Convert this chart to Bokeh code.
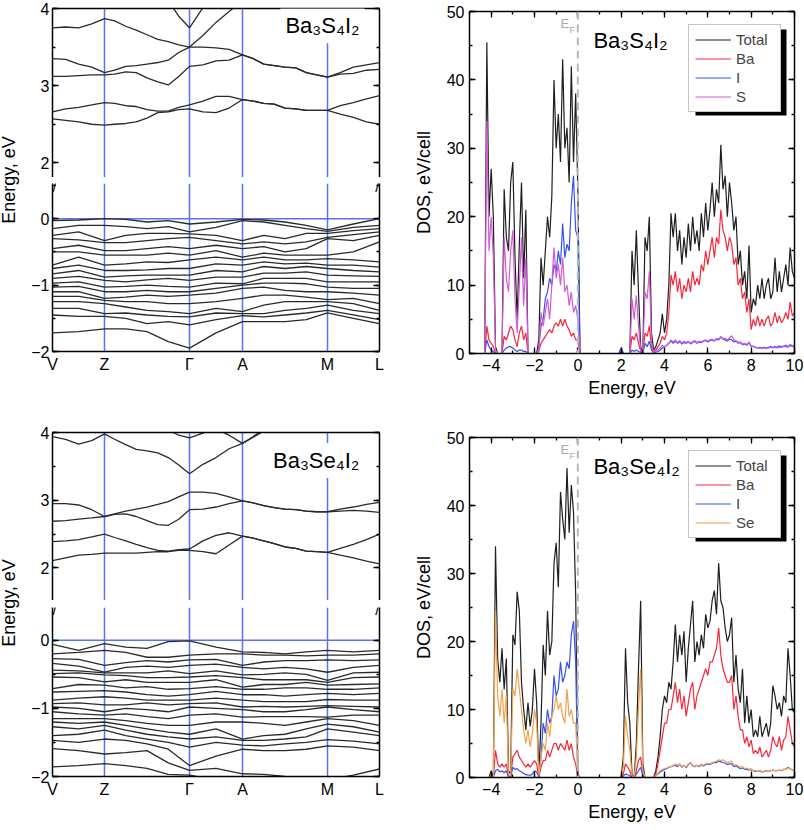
from bokeh.plotting import figure
from bokeh.layouts import row, column
from bokeh.models import (Span, Label, Legend, LegendItem, LinearAxis, FixedTicker,
                          SingleIntervalTicker, Range1d, Div, CustomJSTickFormatter)
from bokeh.embed import file_html
from bokeh.resources import INLINE

# ---------------------------------------------------------------- data
k_path = [0.0, 0.08, 0.159, 0.224, 0.289, 0.354, 0.419, 0.5, 0.581, 0.646, 0.711, 0.776, 0.841, 0.92, 1.0]
k_fine = [0.0, 0.04, 0.08, 0.12, 0.159, 0.19, 0.224, 0.256, 0.289, 0.322, 0.354, 0.386, 0.419, 0.46,
          0.5, 0.54, 0.581, 0.614, 0.646, 0.678, 0.711, 0.744, 0.776, 0.808, 0.841, 0.88, 0.92, 0.96, 1.0]
k_ticks = [0.0, 0.159, 0.419, 0.581, 0.841, 1.0]
k_labels = ["V", "Z", "Γ", "A", "M", "L"]

# Ba3S4I2 conduction bands (eV) on k_fine
s_cb1 = [2.57, 2.55, 2.53, 2.50, 2.49, 2.50, 2.51, 2.53, 2.58, 2.65, 2.66, 2.69, 2.70, 2.66, 2.65,
         2.71, 2.82, 2.80, 2.77, 2.76, 2.71, 2.70, 2.68, 2.68, 2.68, 2.63, 2.59, 2.53, 2.50]
s_cb2 = [2.66, 2.70, 2.72, 2.75, 2.78, 2.77, 2.74, 2.73, 2.69, 2.67, 2.67, 2.72, 2.75, 2.80, 2.86,
         2.86, 2.82, 2.80, 2.77, 2.76, 2.71, 2.70, 2.68, 2.68, 2.68, 2.74, 2.78, 2.83, 2.87]
s_cb3 = [3.12, 3.12, 3.13, 3.14, 3.14, 3.15, 3.18, 3.17, 3.10, 3.05, 3.01, 3.12, 3.25, 3.27, 3.32,
         3.33, 3.40, 3.35, 3.28, 3.26, 3.24, 3.23, 3.17, 3.14, 3.11, 3.15, 3.16, 3.20, 3.21]
s_cb4 = [3.35, 3.34, 3.28, 3.24, 3.17, 3.20, 3.25, 3.26, 3.28, 3.30, 3.33, 3.43, 3.50, 3.50, 3.49,
         3.47, 3.40, 3.35, 3.28, 3.26, 3.24, 3.23, 3.17, 3.14, 3.11, 3.17, 3.24, 3.27, 3.30]
s_cb5 = [3.75, 3.76, 3.75, 3.80, 3.87, 3.84, 3.77, 3.72, 3.66, 3.60, 3.57, 3.53, 3.50, 3.65, 3.82,
         3.96, 4.10, 4.20, 4.25, 4.30, 4.30, 4.30, 4.30, 4.30, 4.30, 4.30, 4.30, 4.30, 4.30]
s_cb6 = [4.40, 4.40, 4.40, 4.40, 4.40, 4.40, 4.40, 4.40, 4.40, 4.40, 4.10, 3.90, 3.75, 4.01, 4.20,
         4.40, 4.40, 4.40, 4.40, 4.40, 4.40, 4.40, 4.40, 4.40, 4.40, 4.40, 4.40, 4.40, 4.40]

# Ba3S4I2 valence band energies at each k_path point (eV, top to bottom)
s_vb_V   = [-0.03, -0.15, -0.25, -0.30, -0.45, -0.50, -0.70, -0.75, -0.83, -0.90, -0.97, -1.03, -1.10, -1.17, -1.25, -1.35, -1.45, -1.72]
s_vb_08  = [-0.02, -0.10, -0.20, -0.32, -0.40, -0.50, -0.58, -0.70, -0.78, -0.87, -0.95, -1.02, -1.10, -1.17, -1.25, -1.35, -1.47, -1.70]
s_vb_Z   = [0.00, -0.10, -0.33, -0.36, -0.48, -0.55, -0.70, -0.78, -0.88, -0.93, -1.03, -1.10, -1.20, -1.23, -1.28, -1.43, -1.47, -1.66]
s_vb_224 = [-0.01, -0.12, -0.25, -0.36, -0.48, -0.55, -0.68, -0.78, -0.86, -0.95, -1.02, -1.10, -1.18, -1.25, -1.33, -1.42, -1.50, -1.66]
s_vb_289 = [-0.05, -0.15, -0.22, -0.33, -0.45, -0.55, -0.65, -0.77, -0.85, -0.92, -1.00, -1.08, -1.15, -1.25, -1.38, -1.45, -1.58, -1.70]
s_vb_354 = [-0.03, -0.12, -0.22, -0.30, -0.42, -0.52, -0.66, -0.75, -0.85, -0.90, -1.02, -1.10, -1.17, -1.28, -1.40, -1.47, -1.55, -1.85]
s_vb_G   = [-0.08, -0.20, -0.23, -0.28, -0.45, -0.55, -0.62, -0.75, -0.85, -0.93, -1.03, -1.10, -1.15, -1.28, -1.43, -1.48, -1.60, -1.95]
s_vb_50  = [-0.05, -0.13, -0.25, -0.33, -0.40, -0.48, -0.58, -0.68, -0.78, -0.88, -0.97, -1.05, -1.12, -1.25, -1.35, -1.42, -1.52, -1.72]
s_vb_A   = [-0.01, -0.03, -0.33, -0.38, -0.45, -0.58, -0.62, -0.70, -0.80, -0.88, -0.98, -1.00, -1.05, -1.20, -1.40, -1.43, -1.46, -1.55]
s_vb_646 = [-0.02, -0.05, -0.25, -0.35, -0.42, -0.52, -0.58, -0.65, -0.72, -0.82, -0.90, -0.97, -1.03, -1.15, -1.30, -1.43, -1.48, -1.55]
s_vb_711 = [-0.05, -0.10, -0.30, -0.38, -0.50, -0.55, -0.62, -0.68, -0.75, -0.82, -0.90, -0.97, -1.08, -1.15, -1.25, -1.38, -1.45, -1.55]
s_vb_776 = [-0.10, -0.15, -0.22, -0.35, -0.45, -0.55, -0.62, -0.67, -0.72, -0.80, -0.90, -0.98, -1.10, -1.18, -1.25, -1.35, -1.42, -1.52]
s_vb_M   = [-0.17, -0.19, -0.22, -0.28, -0.30, -0.55, -0.60, -0.70, -0.75, -0.85, -0.95, -1.03, -1.10, -1.22, -1.25, -1.30, -1.38, -1.42]
s_vb_92  = [-0.08, -0.13, -0.18, -0.24, -0.33, -0.50, -0.62, -0.70, -0.78, -0.86, -0.95, -1.05, -1.12, -1.20, -1.28, -1.38, -1.45, -1.50]
s_vb_L   = [0.00, -0.10, -0.15, -0.20, -0.25, -0.35, -0.65, -0.73, -0.80, -0.87, -0.95, -1.05, -1.15, -1.28, -1.38, -1.43, -1.52, -1.58]

# Ba3Se4I2 conduction bands (eV) on k_fine
e_cb1 = [2.11, 2.15, 2.19, 2.20, 2.22, 2.22, 2.22, 2.22, 2.23, 2.24, 2.24, 2.26, 2.26, 2.24, 2.21,
         2.34, 2.47, 2.44, 2.40, 2.36, 2.31, 2.29, 2.25, 2.24, 2.23, 2.19, 2.15, 2.10, 2.06]
e_cb2 = [2.39, 2.40, 2.42, 2.46, 2.50, 2.45, 2.40, 2.35, 2.30, 2.26, 2.25, 2.27, 2.28, 2.40, 2.48,
         2.52, 2.47, 2.44, 2.40, 2.36, 2.31, 2.29, 2.25, 2.24, 2.23, 2.29, 2.35, 2.42, 2.50]
e_cb3 = [2.69, 2.70, 2.72, 2.74, 2.76, 2.79, 2.80, 2.76, 2.70, 2.64, 2.63, 2.72, 2.86, 2.87, 2.90,
         2.95, 2.99, 2.96, 2.92, 2.89, 2.87, 2.86, 2.84, 2.83, 2.83, 2.84, 2.85, 2.84, 2.82]
e_cb4 = [2.95, 2.95, 2.93, 2.86, 2.76, 2.80, 2.84, 2.87, 2.90, 2.94, 2.98, 3.05, 3.12, 3.12, 3.10,
         3.05, 2.99, 2.96, 2.92, 2.89, 2.87, 2.86, 2.84, 2.83, 2.83, 2.87, 2.90, 2.94, 2.97]
e_cb5 = [3.94, 3.90, 3.83, 3.88, 3.98, 3.90, 3.82, 3.75, 3.73, 3.70, 3.63, 3.52, 3.39, 3.53, 3.63,
         3.76, 3.84, 3.93, 4.02, 4.10, 4.30, 4.30, 4.30, 4.30, 4.30, 4.30, 4.30, 4.30, 4.30]
e_cb6 = [4.30, 4.30, 4.30, 4.30, 4.30, 4.30, 4.30, 4.30, 4.30, 4.20, 4.04, 3.96, 3.92, 3.99, 4.05,
         3.96, 3.84, 3.94, 4.05, 4.15, 4.30, 4.30, 4.30, 4.30, 4.30, 4.30, 4.30, 4.30, 4.30]

# Ba3Se4I2 valence band energies at each k_path point (eV, top to bottom)
e_vb_V   = [-0.06, -0.20, -0.27, -0.34, -0.44, -0.49, -0.54, -0.71, -0.76, -0.88, -0.93, -0.98, -1.05, -1.15, -1.20, -1.27, -1.40, -1.47, -1.59, -1.86]
e_vb_08  = [-0.15, -0.18, -0.28, -0.38, -0.45, -0.48, -0.55, -0.65, -0.75, -0.85, -0.92, -1.00, -1.08, -1.15, -1.22, -1.30, -1.38, -1.50, -1.62, -1.84]
e_vb_Z   = [-0.05, -0.15, -0.37, -0.47, -0.48, -0.51, -0.61, -0.66, -0.74, -0.83, -0.95, -1.05, -1.10, -1.15, -1.20, -1.25, -1.32, -1.45, -1.67, -1.81]
e_vb_224 = [-0.10, -0.18, -0.33, -0.40, -0.48, -0.52, -0.58, -0.70, -0.76, -0.85, -0.95, -1.00, -1.08, -1.18, -1.25, -1.32, -1.40, -1.47, -1.65, -1.84]
e_vb_289 = [-0.12, -0.25, -0.30, -0.38, -0.48, -0.55, -0.62, -0.68, -0.80, -0.88, -0.92, -1.02, -1.12, -1.22, -1.30, -1.38, -1.45, -1.52, -1.62, -1.88]
e_vb_354 = [-0.02, -0.25, -0.32, -0.40, -0.45, -0.55, -0.62, -0.72, -0.82, -0.88, -0.95, -1.05, -1.15, -1.25, -1.35, -1.42, -1.50, -1.60, -1.80, -1.97]
e_vb_G   = [-0.01, -0.22, -0.29, -0.37, -0.49, -0.54, -0.62, -0.71, -0.80, -0.88, -0.93, -0.98, -1.10, -1.25, -1.38, -1.45, -1.57, -1.84, -1.91, -1.98]
e_vb_50  = [-0.10, -0.20, -0.28, -0.35, -0.45, -0.52, -0.58, -0.68, -0.75, -0.85, -0.92, -1.00, -1.08, -1.20, -1.30, -1.42, -1.50, -1.70, -1.88, -2.05]
e_vb_A   = [-0.17, -0.20, -0.37, -0.40, -0.51, -0.55, -0.69, -0.72, -0.80, -0.88, -0.98, -1.02, -1.13, -1.20, -1.45, -1.47, -1.54, -1.60, -1.96, -2.10]
e_vb_646 = [-0.18, -0.22, -0.32, -0.42, -0.50, -0.58, -0.65, -0.72, -0.80, -0.90, -0.97, -1.05, -1.12, -1.22, -1.40, -1.47, -1.55, -1.62, -1.97, -2.10]
e_vb_711 = [-0.20, -0.22, -0.30, -0.40, -0.48, -0.58, -0.65, -0.70, -0.82, -0.90, -0.98, -1.05, -1.12, -1.25, -1.38, -1.45, -1.52, -1.62, -2.00, -2.10]
e_vb_776 = [-0.17, -0.23, -0.30, -0.42, -0.50, -0.58, -0.62, -0.70, -0.80, -0.90, -0.97, -1.02, -1.12, -1.20, -1.30, -1.42, -1.50, -1.60, -2.02, -2.10]
e_vb_M   = [-0.15, -0.22, -0.29, -0.47, -0.59, -0.62, -0.66, -0.72, -0.78, -0.87, -0.96, -0.98, -1.13, -1.15, -1.23, -1.30, -1.46, -1.55, -2.05, -2.10]
e_vb_92  = [-0.17, -0.22, -0.30, -0.40, -0.48, -0.55, -0.65, -0.72, -0.80, -0.88, -0.97, -1.02, -1.10, -1.18, -1.27, -1.35, -1.48, -1.57, -1.98, -2.10]
e_vb_L   = [-0.15, -0.20, -0.29, -0.37, -0.47, -0.54, -0.64, -0.70, -0.78, -0.88, -0.98, -1.05, -1.10, -1.25, -1.35, -1.40, -1.52, -1.62, -1.89, -2.10]

# DOS energy grid: -5.0 ... 10.0 eV, 0.1 eV step (151 points)
dos_energy = [round(-5.0 + 0.1 * i, 1) for i in range(151)]

# Ba3S4I2 DOS (eV/cell); rows of 10 points: -5.0.., -4.0.., -3.0.., ... 9.0.., 10.0
s_total = [0, 0, 0, 0, 0, 0, 0, 0, 45.5, 20,
           27, 20, 1, 0, 0, 0, 24, 17, 15, 25,
           28, 14, 5, 16, 25, 11, 21, 0, 0, 0,
           0, 0, 2, 14, 10, 15, 20, 17, 23, 40,
           30, 35, 28, 43, 30, 33, 25, 42, 28, 38,
           24, 0, 0, 0, 0, 0, 0, 0, 0, 0,
           0, 0, 0, 0, 0, 0, 0, 0, 0, 0,
           0.8, 0, 0, 0, 0, 15, 10, 18, 9, 1,
           0, 17, 15, 20, 3, 0.5, 1, 2, 3, 5.8,
           3, 5, 10, 20.5, 17, 20.5, 15, 18, 13, 17,
           14, 19, 15, 20, 16, 18, 15, 20.5, 17, 22,
           18, 21, 25, 20, 24, 22, 30.5, 24, 26, 20,
           25, 22, 18, 20, 13, 15, 10, 12, 8, 15.8,
           6, 8, 7, 10, 8, 11, 8, 10, 11, 8,
           9, 14, 9, 12, 9, 11, 13, 10, 15.5, 12,
           11]
s_ba = [0, 0, 0, 0, 0, 0, 0, 0, 4, 2,
        1.5, 1, 0, 0, 0, 0, 2.5, 2, 3, 4,
        3.5, 2, 1, 3, 4, 2, 3, 0, 0, 0,
        0, 0, 0.3, 1.5, 2, 2.5, 3, 3.5, 3, 4,
        4.5, 4, 5, 4, 5, 4, 3.5, 2.5, 3, 2,
        2, 0, 0, 0, 0, 0, 0, 0, 0, 0,
        0, 0, 0, 0, 0, 0, 0, 0, 0, 0,
        0.2, 0, 0, 0, 0, 2.5, 2, 3, 1.5, 0.3,
        0, 3, 2.5, 4, 1, 0.3, 0.5, 1, 1.5, 2.5,
        2, 3, 6, 11.5, 10, 12, 9, 11, 8, 10,
        9, 11, 9, 12, 10, 11, 10, 13, 12, 15,
        13, 15, 17, 14, 17, 16, 21, 18, 17, 15,
        17, 16, 13, 14, 10, 11, 8, 9, 6, 8,
        3.5, 5, 4, 5.5, 4, 5, 4, 5, 5.5, 4,
        4.5, 6, 4.5, 5.5, 4.5, 5, 6, 5, 7.5, 5.5,
        6]
s_i = [0, 0, 0, 0, 0, 0, 0, 0, 2, 1,
       0.5, 0.3, 0, 0, 0, 0, 0.5, 0.8, 1, 1,
       0.8, 0.5, 0.3, 0.5, 0.5, 0.3, 0.3, 0, 0, 0,
       0, 0, 1, 4, 5, 8, 9, 11, 10, 13,
       12, 15, 13, 19, 14, 16, 15, 22, 26, 18,
       17, 0, 0, 0, 0, 0, 0, 0, 0, 0,
       0, 0, 0, 0, 0, 0, 0, 0, 0, 0,
       0.8, 0, 0, 0, 0, 0.5, 0.3, 0.5, 0.3, 0.1,
       0, 1.5, 1, 1.8, 0.5, 0.1, 0.2, 0.3, 0.5, 0.8,
       1, 1.2, 1.5, 1.8, 1.5, 1.8, 1.5, 1.7, 1.4, 1.6,
       1.5, 1.7, 1.4, 1.6, 1.8, 1.5, 1.7, 1.6, 1.8, 1.9,
       1.7, 1.9, 2.0, 1.8, 2.1, 2.0, 2.4, 2.1, 2.0, 1.8,
       2.1, 2.0, 1.7, 1.8, 1.5, 1.6, 1.3, 1.4, 1.2, 1.6,
       1.0, 1.1, 0.9, 0.8, 0.9, 0.8, 0.9, 0.8, 0.9, 1.0,
       0.9, 1.0, 0.9, 1.1, 1.0, 1.1, 1.2, 1.0, 1.3, 1.1,
       1.2]
s_s = [0, 0, 0, 0, 0, 0, 0, 0, 34, 15,
       20, 14, 0.5, 0, 0, 0, 17, 11, 9, 15,
       18, 8, 3, 10, 17, 7, 14, 0, 0, 0,
       0, 0, 0.5, 6, 4, 6, 8, 5, 10, 15.5,
       11, 13, 10, 14, 9, 10, 7, 9, 6, 7,
       5, 0, 0, 0, 0, 0, 0, 0, 0, 0,
       0, 0, 0, 0, 0, 0, 0, 0, 0, 0,
       0, 0, 0, 0, 0, 8, 5, 8.5, 4, 0.5,
       0, 9, 8, 12, 1.5, 0.2, 0.3, 0.5, 0.8, 1.2,
       1, 1.2, 1.5, 2, 1.7, 2, 1.6, 1.9, 1.5, 1.8,
       1.6, 1.8, 1.5, 1.7, 1.9, 1.6, 1.8, 1.7, 1.9, 2.0,
       1.8, 2.0, 2.1, 1.9, 2.2, 2.1, 2.5, 2.2, 2.2, 2.0,
       2.3, 2.6, 2.0, 1.9, 1.6, 1.7, 1.4, 1.5, 1.3, 1.7,
       1.1, 1.0, 0.9, 0.8, 0.8, 0.7, 0.8, 0.7, 0.8, 0.9,
       0.8, 0.9, 0.8, 0.9, 0.9, 1.0, 1.0, 0.9, 1.1, 1.0,
       1.0]

# Ba3Se4I2 DOS (eV/cell)
e_total = [0, 0, 0, 0, 0, 0, 0, 0, 0, 0,
           1, 0, 34, 17.5, 14, 19, 13, 17.5, 1, 0.5,
           21, 19.5, 27.3, 24.5, 14, 10, 7, 11, 7.5, 10,
           16, 11, 0.5, 8, 19.5, 15, 24.5, 18, 20, 31.5,
           34.5, 28, 42, 38, 35, 45.5, 36, 43, 39, 27,
           0.5, 0, 0, 0, 0, 0, 0, 0, 0, 0,
           0, 0, 0, 0, 0, 0, 0, 0, 0, 0,
           0, 3, 19, 11, 8, 0.5, 0, 5, 16, 26,
           2, 0, 0, 0, 0, 0, 1, 3, 6, 10,
           12, 11, 14, 13, 17, 22.5, 17, 21, 18, 21.5,
           14, 19, 22.5, 26, 17, 20, 18, 21, 19, 24,
           22, 23, 26, 27.5, 24, 31.5, 26, 25, 22, 20,
           21, 23.5, 14, 18, 13, 11, 16, 8, 12, 8,
           10, 6, 7, 6, 9, 6, 7, 8, 6, 8,
           13.5, 12, 10, 11, 9, 12, 11, 19, 15, 10,
           9.5]
e_ba = [0, 0, 0, 0, 0, 0, 0, 0, 0, 0,
        0.2, 0, 4, 2, 1.5, 2, 1.5, 2, 0.2, 0,
        3, 3.5, 4, 3, 2.5, 2, 1.5, 2, 1.5, 2,
        2.5, 2, 0.1, 1.5, 2.5, 2.5, 4, 3, 4, 5,
        5, 4, 5, 4.5, 4, 5.5, 4, 5, 3, 2,
        0, 0, 0, 0, 0, 0, 0, 0, 0, 0,
        0, 0, 0, 0, 0, 0, 0, 0, 0, 0,
        0, 0.5, 2, 1.5, 1, 0, 0, 1, 2.5, 3,
        0.5, 0, 0, 0, 0, 0, 0.5, 2, 4, 6,
        8, 8, 10, 10, 12, 14, 11, 13, 10, 12,
        9, 11, 13, 14, 10, 12, 13, 14, 15, 16,
        15, 17, 17, 18, 19, 22, 18, 16, 15, 14,
        14, 15, 10, 12, 9, 7, 7, 5, 6, 4.5,
        5.5, 3.5, 4, 3.5, 4.5, 3, 3.5, 4, 3, 4,
        6, 5, 4.5, 6, 4, 5.5, 6, 9, 7, 5,
        4.5]
e_i = [0, 0, 0, 0, 0, 0, 0, 0, 0, 0,
       0.2, 0, 1, 1.2, 0.8, 1, 0.7, 1, 0.1, 0,
       1.5, 1.2, 1.3, 1, 0.8, 0.6, 0.4, 0.4, 0.3, 0.5,
       1, 0.8, 0.1, 3, 8, 6.5, 10, 8, 9, 15,
       12, 13, 17, 14, 15, 17, 16, 21, 23, 17,
       0, 0, 0, 0, 0, 0, 0, 0, 0, 0,
       0, 0, 0, 0, 0, 0, 0, 0, 0, 0,
       0, 0.2, 0.5, 0.4, 0.3, 0, 0, 0.5, 1, 1.5,
       0.2, 0, 0, 0, 0, 0, 0.3, 0.5, 0.8, 1,
       1.2, 1.3, 1.5, 1.6, 1.7, 1.8, 1.6, 2, 1.5, 1.8,
       1.4, 1.9, 2.2, 1.7, 1.6, 1.8, 1.6, 1.9, 1.7, 1.9,
       2, 1.9, 2.1, 2.2, 2.2, 2.4, 2.3, 2.2, 2.1, 1.9,
       2, 2, 1.6, 1.7, 1.5, 1.3, 1.4, 1.2, 1.2, 1.1,
       1.1, 1, 0.9, 0.9, 1, 0.8, 0.9, 1, 0.9, 1,
       1.1, 1, 1, 1.1, 1, 1.2, 1.2, 1.5, 1.3, 1.1,
       1]
e_se = [0, 0, 0, 0, 0, 0, 0, 0, 0, 0,
        0.3, 0, 24.5, 12, 9, 13, 8, 12, 0.5, 0.2,
        13, 12, 16, 13, 10, 7, 5, 7, 4.5, 6.5,
        10, 8, 0.3, 3, 5, 4, 8, 6, 9, 10,
        12, 10, 11, 9, 8, 13, 9, 10, 8, 8,
        0.3, 0, 0, 0, 0, 0, 0, 0, 0, 0,
        0, 0, 0, 0, 0, 0, 0, 0, 0, 0,
        0, 1.5, 9, 6, 4, 0.3, 0, 3, 10, 16,
        1, 0, 0, 0, 0, 0, 0.3, 0.6, 1, 1.2,
        1.3, 1.4, 1.5, 1.6, 1.7, 2, 1.8, 2, 1.6, 1.8,
        1.5, 2, 2.2, 1.8, 1.6, 1.8, 1.7, 2, 1.8, 2,
        2.1, 2, 2.2, 2.3, 2.4, 2.6, 2.5, 2.6, 2.4, 2.2,
        2.3, 2.4, 1.8, 1.9, 1.7, 1.5, 1.6, 1.3, 1.4, 1.2,
        1.3, 1, 1, 0.9, 1, 0.9, 0.9, 1, 0.9, 1,
        1.1, 1, 1, 1.1, 1, 1.2, 1.2, 1.4, 1.3, 1.1,
        1]

# ---------------------------------------------------------------- style
FONT = "Liberation Sans"
BLUE_LINE = "#5d6ff2"
BAND_COLOR = "#2a2a2a"
C_TOTAL = "#1e1e1e"
C_BA = "#f5283c"
C_I = "#3552f0"
C_S = "#d45ad8"
C_SE = "#f4a24e"
EF_GREY = "#a9a9a9"

NO_LABELS = "return ''"


def style_axis(ax, show_labels=True, standoff=4):
    ax.axis_line_color = "black"
    ax.axis_line_width = 1.5
    ax.major_tick_line_color = "black"
    ax.major_tick_line_width = 1.3
    ax.minor_tick_line_color = "black"
    ax.minor_tick_line_width = 1.3
    ax.major_tick_in = 6
    ax.major_tick_out = 0
    ax.minor_tick_in = 3
    ax.minor_tick_out = 0
    ax.major_label_text_font = FONT
    ax.major_label_text_font_size = "16px"
    ax.major_label_text_color = "black"
    ax.major_label_standoff = standoff
    if not show_labels:
        ax.formatter = CustomJSTickFormatter(code=NO_LABELS)
        ax.major_label_text_color = None
        ax.major_label_standoff = 0
    ax.axis_label_text_font = FONT
    ax.axis_label_text_font_size = "18px"
    ax.axis_label_text_font_style = "normal"
    ax.axis_label_text_color = "black"


BAND_BL, BAND_FW, BAND_BR = 30, 327, 21
BAND_W = BAND_BL + BAND_FW + BAND_BR
DIV_W = 22


def ylabel_div(height, center_y):
    html = ('<div style="position:relative;width:%dpx;height:%dpx;">'
            '<div style="position:absolute;left:10px;top:%dpx;'
            'transform:translate(-50%%,-50%%) rotate(-90deg);white-space:nowrap;'
            'font-family:\'Liberation Sans\';font-size:18px;color:black;">Energy, eV</div></div>'
            % (DIV_W, height, center_y))
    return Div(text=html, width=DIV_W, height=height, margin=0)


def band_panel(cbands, vklists, up_range, low_range, title, title_xy,
               top_border, up_h, gap, low_h, bottom_border):
    common = dict(width=BAND_W, output_backend="svg", toolbar_location=None,
                  min_border_left=BAND_BL, min_border_right=BAND_BR,
                  x_axis_location=None, y_axis_location=None,
                  background_fill_color="white", border_fill_color="white")
    up = figure(height=top_border + up_h, x_range=Range1d(0, 1),
                y_range=Range1d(*up_range), min_border_top=top_border,
                min_border_bottom=0, **common)
    low = figure(height=gap + low_h + bottom_border, x_range=Range1d(0, 1),
                 y_range=Range1d(*low_range), min_border_top=gap,
                 min_border_bottom=bottom_border, **common)
    for p in (up, low):
        p.grid.visible = False
        p.outline_line_color = None
        for kt in k_ticks[1:-1]:
            p.add_layout(Span(location=kt, dimension="height", line_color=BLUE_LINE,
                              line_width=1.5, level="underlay"))
        for side, lab in (("left", True), ("right", False)):
            ax = LinearAxis(ticker=SingleIntervalTicker(interval=1, num_minor_ticks=2))
            style_axis(ax, lab, standoff=3)
            p.add_layout(ax, side)
    low.add_layout(Span(location=0, dimension="width", line_color=BLUE_LINE,
                        line_width=1.5, level="underlay"))
    top_ax = LinearAxis(ticker=FixedTicker(ticks=[]))
    style_axis(top_ax, False)
    up.add_layout(top_ax, "above")
    bot_ax = LinearAxis(ticker=FixedTicker(ticks=k_ticks),
                        major_label_overrides={t: l for t, l in zip(k_ticks, k_labels)})
    style_axis(bot_ax, True, standoff=4)
    bot_ax.major_tick_line_color = None
    bot_ax.minor_tick_line_color = None
    low.add_layout(bot_ax, "below")

    for b in cbands:
        up.line(k_fine, b, line_color=BAND_COLOR, line_width=1.3)
    for b in zip(*vklists):
        low.line(k_path, list(b), line_color=BAND_COLOR, line_width=1.3)

    up.add_layout(Label(x=title_xy[0], y=title_xy[1], text=title, text_font=FONT,
                        text_font_size="22px", text_color="black",
                        background_fill_color="white", padding=5))
    # axis-break marks, just below the gap start, inside the lower canvas
    for xpos in (0, BAND_FW):
        low.add_layout(Label(x=xpos, y=low_h + gap, x_units="screen", y_units="screen",
                             text="//", text_align="center", text_baseline="top",
                             text_font=FONT, text_font_size="15px", text_color="black"))
    return column(up, low, spacing=0)


DOS_BL, DOS_FW, DOS_BR = 69, 325, 10
DOS_W = DOS_BL + DOS_FW + DOS_BR
X0, X1, Y0, Y1 = -5.0, 10.0, 0.0, 50.0
LEG_W, LEG_H, SHADOW = 91, 86, 5


def dos_panel(total, ba, iod, chal, chal_name, chal_color, title,
              top_border, frame_h, bottom_border, legend_margin):
    p = figure(width=DOS_W, height=top_border + frame_h + bottom_border,
               x_range=Range1d(X0, X1), y_range=Range1d(Y0, Y1),
               min_border_left=DOS_BL, min_border_right=DOS_BR,
               min_border_top=top_border, min_border_bottom=bottom_border,
               x_axis_location=None, y_axis_location=None,
               output_backend="svg", toolbar_location=None)
    p.grid.visible = False
    p.outline_line_color = None
    bx = LinearAxis(ticker=SingleIntervalTicker(interval=2, num_minor_ticks=2),
                    axis_label="Energy, eV")
    style_axis(bx, True, standoff=5)
    bx.axis_label_standoff = 4
    p.add_layout(bx, "below")
    tx = LinearAxis(ticker=SingleIntervalTicker(interval=2, num_minor_ticks=2))
    style_axis(tx, False)
    p.add_layout(tx, "above")
    ly = LinearAxis(ticker=SingleIntervalTicker(interval=10, num_minor_ticks=2),
                    axis_label="DOS, eV/cell")
    style_axis(ly, True, standoff=5)
    ly.axis_label_standoff = 10
    p.add_layout(ly, "left")
    ry = LinearAxis(ticker=SingleIntervalTicker(interval=10, num_minor_ticks=2))
    style_axis(ry, False)
    p.add_layout(ry, "right")

    # legend drop shadow: a black box 5 px right/below the legend frame
    px_x = (X1 - X0) / DOS_FW
    px_y = (Y1 - Y0) / frame_h
    sh_right = DOS_FW - legend_margin + SHADOW
    sh_top = legend_margin + SHADOW
    p.quad(left=[X0 + (sh_right - LEG_W) * px_x], right=[X0 + sh_right * px_x],
           top=[Y1 - sh_top * px_y], bottom=[Y1 - (sh_top + LEG_H) * px_y],
           fill_color="black", line_color=None)

    r_t = p.line(dos_energy, total, line_color=C_TOTAL, line_width=1.2)
    r_b = p.line(dos_energy, ba, line_color=C_BA, line_width=1.2)
    r_i = p.line(dos_energy, iod, line_color=C_I, line_width=1.2)
    r_c = p.line(dos_energy, chal, line_color=chal_color, line_width=1.2)

    p.add_layout(Span(location=0, dimension="height", line_color="#b8b8b8",
                      line_dash="8 5", line_width=2))
    p.add_layout(Label(x=-0.8, y=47.2, text="E", text_font=FONT, text_font_size="13px",
                       text_color=EF_GREY))
    p.add_layout(Label(x=-0.38, y=46.6, text="F", text_font=FONT, text_font_size="9px",
                       text_color=EF_GREY))
    p.add_layout(Label(x=0.72, y=43.9, text=title, text_font=FONT, text_font_size="22px",
                       text_color="black"))

    legend = Legend(items=[LegendItem(label="Total", renderers=[r_t]),
                           LegendItem(label="Ba", renderers=[r_b]),
                           LegendItem(label="I", renderers=[r_i]),
                           LegendItem(label=chal_name, renderers=[r_c])],
                    location="top_right", margin=legend_margin, padding=6, spacing=2,
                    glyph_width=36, glyph_height=17, label_height=17, label_width=38,
                    label_standoff=5,
                    label_text_font=FONT, label_text_font_size="15px",
                    border_line_color="#8c8c8c", border_line_width=1,
                    background_fill_color="white", background_fill_alpha=1.0)
    p.add_layout(legend)
    return p


s_vklists = [s_vb_V, s_vb_08, s_vb_Z, s_vb_224, s_vb_289, s_vb_354, s_vb_G, s_vb_50,
             s_vb_A, s_vb_646, s_vb_711, s_vb_776, s_vb_M, s_vb_92, s_vb_L]
e_vklists = [e_vb_V, e_vb_08, e_vb_Z, e_vb_224, e_vb_289, e_vb_354, e_vb_G, e_vb_50,
             e_vb_A, e_vb_646, e_vb_711, e_vb_776, e_vb_M, e_vb_92, e_vb_L]

band_s = band_panel([s_cb1, s_cb2, s_cb3, s_cb4, s_cb5, s_cb6], s_vklists,
                    (1.81, 4.0), (-2.0, 0.53), "Ba₃S₄I₂", (0.697, 3.55),
                    top_border=8, up_h=169, gap=6, low_h=168, bottom_border=24)
band_e = band_panel([e_cb1, e_cb2, e_cb3, e_cb4, e_cb5, e_cb6], e_vklists,
                    (1.52, 4.0), (-2.0, 0.48), "Ba₃Se₄I₂", (0.659, 3.33),
                    top_border=31, up_h=168, gap=7, low_h=169, bottom_border=24)

dos_s = dos_panel(s_total, s_ba, s_i, s_s, "S", C_S, "Ba₃S₄I₂",
                  top_border=11, frame_h=342, bottom_border=48, legend_margin=13)
dos_e = dos_panel(e_total, e_ba, e_i, e_se, "Se", C_SE, "Ba₃Se₄I₂",
                  top_border=36, frame_h=340, bottom_border=50, legend_margin=13)

top_row = row(row(ylabel_div(375, 180), band_s, spacing=0), dos_s, spacing=0)
bottom_row = row(row(ylabel_div(399, 202), band_e, spacing=0), dos_e, spacing=0)
layout = column(top_row, bottom_row, spacing=0)

open("out.html", "w").write(file_html(layout, INLINE, title="Ba3S4I2 / Ba3Se4I2"))
